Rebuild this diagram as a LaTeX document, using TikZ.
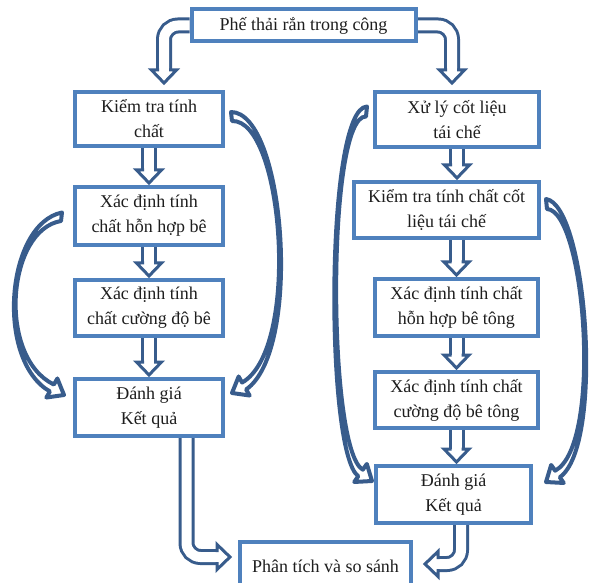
\documentclass[tikz,border=0pt]{standalone}
\usepackage{fontspec}
\setmainfont{Liberation Serif}
\usetikzlibrary{calc}
\definecolor{boxblue}{RGB}{79,129,189}
\definecolor{arrowblue}{RGB}{56,92,140}
\definecolor{txt}{RGB}{30,30,30}
\pgfdeclarelayer{bg}
\pgfsetlayers{bg,main}
% crescent (curved) block arrow
\newcommand\crescent[8]{%
  \draw[cres] (#1) .. controls (#2) and (#3) ..
    ($(#7)+(#8+180:14)+(#8+90:4)$) -- ($(#7)+(#8+180:14)+(#8+90:11)$) -- (#7) --
    ($(#7)+(#8+180:14)+(#8-90:11)$) -- ($(#7)+(#8+180:14)+(#8-90:4)$)
    .. controls (#5) and (#6) .. (#4) -- cycle;}
\tikzset{
  box/.style={draw=boxblue, line width=4, fill=white, inner sep=0, align=center,
    text=txt, font=\fontsize{18}{25}\selectfont},
  shaft/.style={draw=arrowblue, line width=3, double=white, double distance=10},
  cres/.style={draw=arrowblue, fill=white, line width=4, line join=round},
  ahead/.pic={
    \fill[white] (0,0) -- (-13,12.5) -- (-13,-12.5) -- cycle;
    \draw[arrowblue, line width=3, line cap=rect, line join=miter]
      (-13,6.5) -- (-13,12.5) -- (0,0) -- (-13,-12.5) -- (-13,-6.5);
  }
}
\begin{document}
\begin{tikzpicture}[x=1pt,y=-1pt]
\useasboundingbox (0,0) rectangle (590,583);
% boxes
\node[box, minimum width=224, minimum height=32] (Top) at (303.5,25.5) {Phế thải rắn trong công};
\node[box, minimum width=148, minimum height=54] (L1) at (149,119) {Kiểm tra tính\\chất};
\node[box, minimum width=148, minimum height=58] (L2) at (149,216) {Xác định tính\\chất hỗn hợp bê};
\node[box, minimum width=148, minimum height=56] (L3) at (149,308) {Xác định tính\\chất cường độ bê};
\node[box, minimum width=148, minimum height=57] (L4) at (149,407.5) {Đánh giá\\Kết quả};
\node[box, minimum width=164, minimum height=55] (R1) at (457,119.5) {Xử lý cốt liệu\\tái chế};
\node[box, minimum width=185, minimum height=56] (R2) at (446.5,210) {Kiểm tra tính chất cốt\\liệu tái chế};
\node[box, minimum width=163, minimum height=57] (R3) at (456.5,307.5) {Xác định tính chất\\hỗn hợp bê tông};
\node[box, minimum width=163, minimum height=56] (R4) at (456.5,400) {Xác định tính chất\\cường độ bê tông};
\node[box, minimum width=155, minimum height=57] (R5) at (453.5,494.5) {Đánh giá\\Kết quả};
\node[box, minimum width=171, minimum height=48] (B) at (325.5,566) {Phân tích và so sánh};
\begin{pgfonlayer}{bg}
\fill[white] (0,0) rectangle (590,583);
% top bent arrows
\draw[shaft, rounded corners=14] (Top.west) -| ($(L1.north)+(15,-20)$);
\pic[rotate=-90] at ($(L1.north)+(15,-7)$) {ahead};
\draw[shaft, rounded corners=14] (Top.east) -| ($(R1.north)+(-5,-20)$);
\pic[rotate=-90] at ($(R1.north)+(-5,-7)$) {ahead};
% left column
\draw[shaft] (L1.south) -- ($(L2.north)+(0,-15)$);
\pic[rotate=-90] at ($(L2.north)+(0,-2)$) {ahead};
\draw[shaft] (L2.south) -- ($(L3.north)+(0,-15)$);
\pic[rotate=-90] at ($(L3.north)+(0,-2)$) {ahead};
\draw[shaft] (L3.south) -- ($(L4.north)+(0,-15)$);
\pic[rotate=-90] at ($(L4.north)+(0,-2)$) {ahead};
% right column
\draw[shaft] (R1.south) -- ($(R1.south |- R2.north)+(0,-15)$);
\pic[rotate=-90] at ($(R1.south |- R2.north)+(0,-2)$) {ahead};
\draw[shaft] (R3.north |- R2.south) -- ($(R3.north)+(0,-15)$);
\pic[rotate=-90] at ($(R3.north)+(0,-2)$) {ahead};
\draw[shaft] (R3.south) -- ($(R4.north)+(0,-15)$);
\pic[rotate=-90] at ($(R4.north)+(0,-2)$) {ahead};
\draw[shaft] (R4.south) -- ($(R4.south |- R5.north)+(0,-15)$);
\pic[rotate=-90] at ($(R4.south |- R5.north)+(0,-2)$) {ahead};
% bottom bent arrows
\draw[shaft, rounded corners=14] ($(L4.south)+(37.5,0)$) |- ($(B.west)+(-21,-9)$);
\pic at ($(B.west)+(-8,-9)$) {ahead};
\draw[shaft, rounded corners=14] ($(R5.south)+(7.5,0)$) |- ($(B.east)+(25,-2)$);
\pic[rotate=180] at ($(B.east)+(12,-2)$) {ahead};
% curved arrows
\crescent{62,212.5}{6,224}{-5,360}{61,221}{-3,357}{7,230}{64,395}{30}
\crescent{232,121}{283.5,119}{301,349}{231,112}{303,350}{285,112}{232,393}{150}
\crescent{367,106.5}{325,108}{325,452}{366,116.5}{327,450}{326.5,115}{372,481}{35}
\crescent{547,209}{585.5,211}{603,445}{546,199}{604.8,445.7}{587,205}{546,482}{145}
\end{pgfonlayer}
\end{tikzpicture}
\end{document}
